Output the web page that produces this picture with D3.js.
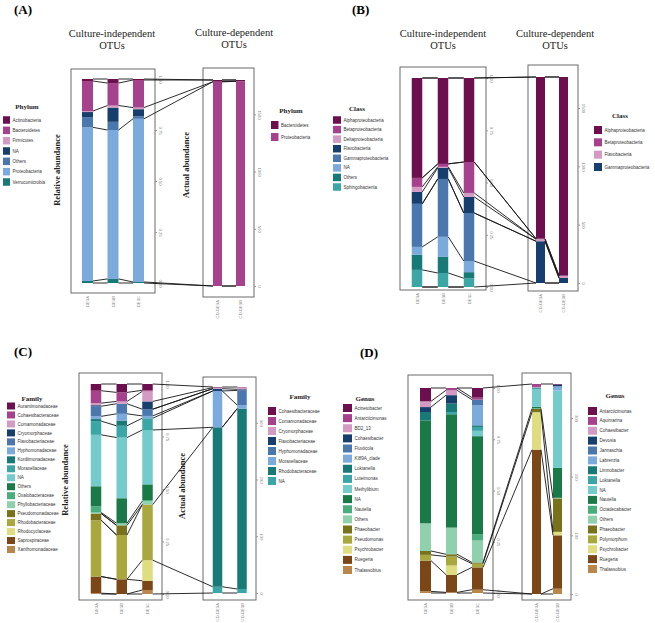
<!DOCTYPE html>
<html><head><meta charset="utf-8">
<script src="https://cdn.jsdelivr.net/npm/d3@7"></script>
<style>body{margin:0;background:#fff}svg{display:block}</style>
</head><body><svg id="c" width="655" height="623"></svg>
<script>
// ---------------- DATA ----------------
const palette = ["#6d0f4e","#a6428d","#d39ac4","#173f6e","#4a77ad","#7baadd","#177a77","#3ba6a5","#74cbcb","#197a47","#49ad7c","#8ed1ac","#77721b","#a9a83f","#dedd7f","#7b4716","#b9874c"];
const relTicks = [0, 0.25, 0.5, 0.75, 1];

// (A) Phylum
const phylumIndep = ["Actinobacteria","Bacteroidetes","Firmicutes","NA","Others","Proteobacteria","Verrucomicrobia"];
const phylumIndepValues = [
  [0.010, 0.147, 0.005, 0.025, 0.050, 0.753, 0.010],
  [0.020, 0.110, 0.010, 0.070, 0.040, 0.730, 0.020],
  [0.005, 0.135, 0.008, 0.035, 0.012, 0.800, 0.005]
];
const phylumDep = ["Bacteroidetes","Proteobacteria"];
const phylumDepValues = [[15, 1785], [12, 1788]];
const phylumDepTicks = [0, 500, 1000, 1500];

// (B) Class
const classIndep = ["Alphaproteobacteria","Betaproteobacteria","Deltaproteobacteria","Flavobacteria","Gammaproteobacteria","NA","Others","Sphingobacteriia"];
const classIndepValues = [
  [0.478, 0.043, 0.024, 0.057, 0.206, 0.038, 0.072, 0.082],
  [0.411, 0.014, 0.005, 0.053, 0.277, 0.096, 0.077, 0.067],
  [0.402, 0.148, 0.019, 0.077, 0.230, 0.053, 0.029, 0.042]
];
const classDep = ["Alphaproteobacteria","Betaproteobacteria","Flavobacteria","Gammaproteobacteria"];
const classDepValues = [[1386, 4, 18, 358], [1703, 0, 20, 43]];
const classDepTicks = [0, 500, 1000, 1500];

// (C) Family
const familyIndep = ["Aurantimonadaceae","Cohaesibacteraceae","Comamonadaceae","Cryomorphaceae","Flavobacteriaceae","Hyphomonadaceae","Kordiimonadaceae","Moraxellaceae","NA","Others","Oxalobacteraceae","Phyllobacteriaceae","Pseudomonadaceae","Rhodobacteraceae","Rhodocyclaceae","Saprospiraceae","Xanthomonadaceae"];
const familyIndepValues = [
  [0.032,0.059,0.010,0.005,0.048,0.013,0.010,0.065,0.245,0.095,0.030,0.005,0.032,0.268,0.000,0.079,0.004],
  [0.040,0.043,0.011,0.000,0.048,0.032,0.025,0.056,0.289,0.119,0.000,0.010,0.046,0.211,0.000,0.070,0.000],
  [0.030,0.005,0.048,0.037,0.032,0.011,0.000,0.056,0.259,0.075,0.005,0.016,0.000,0.265,0.098,0.044,0.019]
];
const familyDep = ["Cohaesibacteraceae","Comamonadaceae","Cryomorphaceae","Flavobacteriaceae","Hyphomonadaceae","Moraxellaceae","Rhodobacteraceae","NA"];
const familyDepValues = [[1, 0, 2, 4, 0, 64, 281, 11], [0, 1, 3, 2, 26, 6, 318, 7]];
const familyDepTicks = [0, 100, 200, 300];

// (D) Genus
const genusIndep = ["Acinetobacter","Antarcticimonas","BD2_13","Cohaesibacter","Fluviicola","KI89A_clade","Loktanella","Luteimonas","Methylibium","NA","Nautella","Others","Phaeobacter","Pseudomonas","Psychrobacter","Ruegeria","Thalassobius"];
const genusIndepValues = [
  [0.065,0.000,0.028,0.024,0.000,0.000,0.041,0.000,0.000,0.502,0.000,0.135,0.019,0.028,0.000,0.150,0.008],
  [0.000,0.011,0.024,0.041,0.000,0.000,0.041,0.011,0.000,0.553,0.000,0.130,0.011,0.044,0.045,0.086,0.003],
  [0.047,0.010,0.000,0.000,0.028,0.097,0.008,0.019,0.026,0.478,0.031,0.107,0.006,0.018,0.000,0.109,0.016]
];
const genusDep = ["Antarcticimonas","Aquimarina","Cohaesibacter","Devosia","Jannaschia","Labrenzia","Limnobacter","Loktanella","NA","Nautella","Octadecabacter","Others","Phaeobacter","Polymorphum","Psychrobacter","Ruegeria","Thalassobius"];
const genusDepValues = [
  [0,5,1,0,0,0,2,0,31,2,1,0,6,0,64,246,0],
  [1,0,0,3,0,7,0,0,132,51,0,1,57,0,6,91,9]
];
const genusDepTicks = [0, 100, 200, 300];

const indepSamples = ["DE3A", "DE3B", "DE3C"];
const depSamples = ["CD-DE3A", "CD-DE3B"];

// links (which taxa get connecting lines)
const linksA = {within: ["Bacteroidetes","Proteobacteria"], cross: ["Bacteroidetes","Proteobacteria"]};
const linksB = {within: ["Alphaproteobacteria","Betaproteobacteria","Flavobacteria","Gammaproteobacteria","Sphingobacteriia"], cross: ["Alphaproteobacteria","Betaproteobacteria","Flavobacteria","Gammaproteobacteria"]};
const linksC = {within: ["Cohaesibacteraceae","Flavobacteriaceae","Moraxellaceae","Phyllobacteriaceae","Pseudomonadaceae","Rhodobacteraceae","Saprospiraceae"], cross: ["Cryomorphaceae","Flavobacteriaceae","Moraxellaceae","Rhodobacteraceae"]};
const linksD = {within: ["Antarcticimonas","BD2_13","Phaeobacter","Ruegeria"], cross: ["Phaeobacter","Ruegeria"]};

// ---------------- LAYOUT ----------------
const SERIF = "'Liberation Serif','Times New Roman',serif";
const SANS = "'Liberation Sans',Arial,sans-serif";
const panels = [
  { label:"(A)", lab:[14,14], tL:[112,37], tR:[234,36], links: linksA,
    left:{cats:phylumIndep, vals:phylumIndepValues, samples:indepSamples, rel:true, ticks:relTicks,
      frame:[71,69,155,293], cx:[87.5,138.5], yr:[283,79], bw:11,
      legend:{title:"Phylum", tx:27, ty:109, sx:3, y0:120, y1:182, sw:7, sh:7.5},
      axisTitle:{text:"Relative abundance", x:60, y:170}},
    right:{cats:phylumDep, vals:phylumDepValues, samples:depSamples, rel:false, ticks:phylumDepTicks, total:1800,
      frame:[203,68,254,297], cx:[217.5,240.5], yr:[286,80], bw:9,
      legend:{title:"Phylum", tx:291, ty:113, sx:271, y0:125, y1:137, sw:7.5, sh:8},
      axisTitle:{text:"Actual abundance", x:189, y:165}} },
  { label:"(B)", lab:[352,14], tL:[443,37], tR:[555,37], links: linksB,
    left:{cats:classIndep, vals:classIndepValues, samples:indepSamples, rel:true, ticks:relTicks,
      frame:[400,67,486,290], cx:[417,469], yr:[287,78], bw:10.5,
      legend:{title:"Class", tx:357, ty:111, sx:333, y0:120, y1:187, sw:8, sh:7.5}},
    right:{cats:classDep, vals:classDepValues, samples:depSamples, rel:false, ticks:classDepTicks, total:1766,
      frame:[528,65,578,291], cx:[540.5,563.5], yr:[283,77], bw:9,
      legend:{title:"Class", tx:620, ty:118, sx:594, y0:130, y1:167, sw:8, sh:8}} },
  { label:"(C)", lab:[14,356], tL:null, tR:null, links: linksC,
    left:{cats:familyIndep, vals:familyIndepValues, samples:indepSamples, rel:true, ticks:relTicks,
      frame:[79,373,162,600], cx:[96,147.5], yr:[594,384], bw:10.5,
      legend:{title:"Family", tx:32, ty:401, sx:7, y0:406, y1:549.5, sw:8, sh:7},
      axisTitle:{text:"Relative abundance", x:68, y:480}},
    right:{cats:familyDep, vals:familyDepValues, samples:depSamples, rel:false, ticks:familyDepTicks, total:363,
      frame:[203,377,256,600], cx:[217.5,242], yr:[593,387], bw:9.5,
      legend:{title:"Family", tx:300, ty:399, sx:268, y0:411, y1:481, sw:8, sh:8},
      axisTitle:{text:"Actual abundance", x:185, y:486}} },
  { label:"(D)", lab:[360,357], tL:null, tR:null, links: linksD,
    left:{cats:genusIndep, vals:genusIndepValues, samples:indepSamples, rel:true, ticks:relTicks,
      frame:[408,375,493,600], cx:[425.5,477.5], yr:[593,388], bw:11,
      legend:{title:"Genus", tx:365, ty:401, sx:343, y0:408, y1:570, sw:9, sh:8}},
    right:{cats:genusDep, vals:genusDepValues, samples:depSamples, rel:false, ticks:genusDepTicks, total:358,
      frame:[522,373,571,600], cx:[536.5,557.5], yr:[594,384], bw:9,
      legend:{title:"Genus", tx:615, ty:398, sx:588, y0:411, y1:569, sw:9, sh:8}} }
];

// ---------------- DRAW ----------------
const svg = d3.select("#c");
svg.append("rect").attr("width",655).attr("height",623).attr("fill","#fff");

function prep(s){
  const y = d3.scaleLinear().domain([0, s.rel ? 1 : s.total]).range(s.yr);
  const x = d3.scalePoint().domain(s.samples).range(s.cx);
  const color = d3.scaleOrdinal().domain(s.cats).range(palette);
  const rows = s.vals.map((r,i)=>{const o={sample:s.samples[i]}; s.cats.forEach((c,j)=>o[c]=r[j]); return o;});
  const layers = d3.stack().keys(s.cats.slice().reverse())(rows);
  const seg = {}; layers.forEach(L => seg[L.key] = L);
  return {s, x, y, color, rows, layers, seg};
}

function drawSide(g, P){
  const s = P.s;
  const [fx0, fy0, fx1, fy1] = s.frame;
  g.append("rect").attr("x",fx0).attr("y",fy0).attr("width",fx1-fx0).attr("height",fy1-fy0)
    .attr("fill","none").attr("stroke","#6b6b6b").attr("stroke-width",1);
  // bars
  P.layers.forEach(L => {
    g.append("g").selectAll("rect").data(L).join("rect")
      .attr("x", d => P.x(d.data.sample) - s.bw/2)
      .attr("y", d => P.y(d[1]))
      .attr("width", s.bw)
      .attr("height", d => Math.max(0, P.y(d[0]) - P.y(d[1])))
      .attr("fill", P.color(L.key));
  });
  // axis on right
  const ax = g.append("g").attr("transform",`translate(${fx1},0)`)
    .call(d3.axisRight(P.y).tickValues(s.ticks).tickSize(2).tickFormat(s.rel ? d3.format(".2f") : d3.format("d")));
  ax.select(".domain").remove();
  ax.selectAll("line").attr("stroke","#999");
  ax.selectAll("text").attr("transform","rotate(90)").attr("x",0).attr("y",-3.5).attr("dy",0)
    .attr("text-anchor","middle").attr("fill","#8a8a8a").style("font-size","4.2px").style("font-family",SANS);
  // sample labels
  g.append("g").selectAll("text").data(s.samples).join("text")
    .attr("transform", d => `translate(${P.x(d)+1.5},${fy1+3}) rotate(-90)`)
    .attr("text-anchor","end").attr("fill","#8a8a8a").style("font-size","4.2px").style("font-family",SANS)
    .text(d => d);
  // legend
  const lg = s.legend;
  g.append("text").attr("x",lg.tx).attr("y",lg.ty).attr("text-anchor","middle")
    .style("font-family",SERIF).style("font-size","7px").style("font-weight","bold").attr("fill","#222").text(lg.title);
  const ly = d3.scalePoint().domain(s.cats).range([lg.y0, lg.y1]);
  const items = g.append("g").selectAll("g").data(s.cats).join("g")
    .attr("transform", d => `translate(${lg.sx},${ly(d)})`);
  items.append("rect").attr("x",0).attr("y",-lg.sh/2).attr("width",lg.sw).attr("height",lg.sh).attr("fill",d=>P.color(d));
  items.append("text").attr("x",lg.sw+2.5).attr("y",1.6).style("font-family",SANS).style("font-size","4.5px")
    .attr("fill","#333").text(d=>d);
  if (s.axisTitle){
    g.append("text").attr("transform",`translate(${s.axisTitle.x},${s.axisTitle.y}) rotate(-90)`)
      .attr("text-anchor","middle").style("font-family",SERIF).style("font-size","8.5px").style("font-weight","bold")
      .attr("fill","#222").text(s.axisTitle.text);
  }
}

function link(g, A, i, B, j, cats){
  const xa = A.x(A.s.samples[i]) + A.s.bw/2;
  const xb = B.x(B.s.samples[j]) - B.s.bw/2;
  const segs = [];
  const totA = d3.sum(A.s.vals[i]), totB = d3.sum(B.s.vals[j]);
  segs.push([A.y(totA), B.y(totB)]);
  segs.push([A.y(0), B.y(0)]);
  cats.forEach(c => {
    if (!A.seg[c] || !B.seg[c]) return;
    const da = A.seg[c][i], db = B.seg[c][j];
    if (da[1]-da[0] <= 0 || db[1]-db[0] <= 0) return;
    segs.push([A.y(da[1]), B.y(db[1])]);
    segs.push([A.y(da[0]), B.y(db[0])]);
  });
  g.selectAll(null).data(segs).join("line")
    .attr("x1",xa).attr("x2",xb).attr("y1",d=>d[0]).attr("y2",d=>d[1])
    .attr("stroke","#151515").attr("stroke-width",0.9);
}

panels.forEach(p => {
  const g = svg.append("g");
  const L = prep(p.left), R = prep(p.right);
  drawSide(g, L); drawSide(g, R);
  const lg = g.append("g");
  for (let i=0;i<L.s.samples.length-1;i++) link(lg, L, i, L, i+1, p.links.within);
  for (let i=0;i<R.s.samples.length-1;i++) link(lg, R, i, R, i+1, p.links.within);
  link(lg, L, L.s.samples.length-1, R, 0, p.links.cross);
  g.append("text").attr("x",p.lab[0]).attr("y",p.lab[1]).style("font-family",SERIF).style("font-size","13px")
    .style("font-weight","bold").text(p.label);
  [[p.tL,"Culture-independent"],[p.tR,"Culture-dependent"]].forEach(([pos,t]) => {
    if (!pos) return;
    const tt = g.append("text").attr("x",pos[0]).attr("y",pos[1]).attr("text-anchor","middle")
      .style("font-family",SERIF).style("font-size","10.5px").attr("fill","#222");
    tt.append("tspan").attr("x",pos[0]).text(t);
    tt.append("tspan").attr("x",pos[0]).attr("dy","1.15em").text("OTUs");
  });
});
</script></body></html>
